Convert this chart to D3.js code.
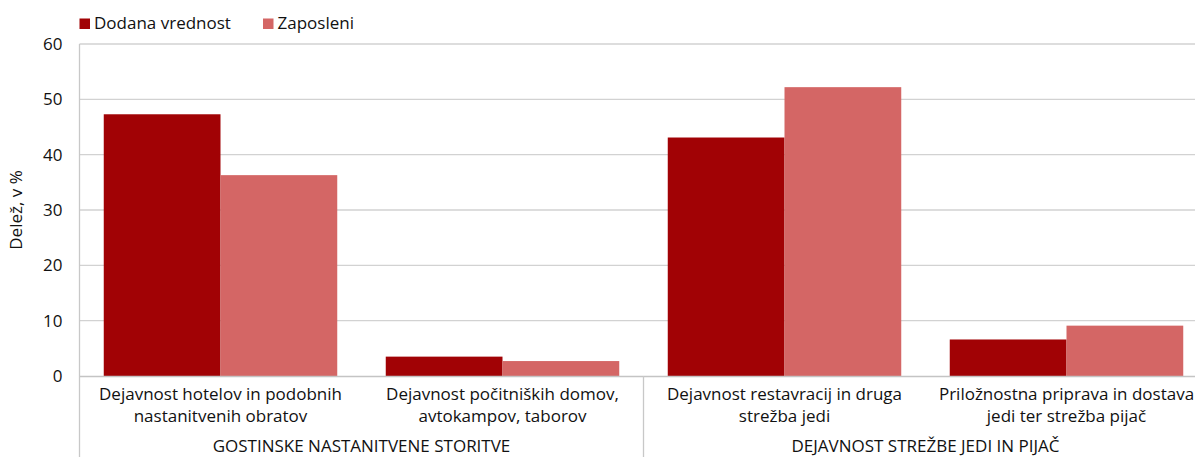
<!DOCTYPE html>
<html>
<head>
<meta charset="utf-8">
<script src="https://cdn.jsdelivr.net/npm/d3@7"></script>
<style>
  body { margin: 0; background: #fff; }
  svg { display: block; font-family: "Open Sans", sans-serif; }
</style>
</head>
<body>
<div id="vis"></div>
<script>
// data
const categories = ["hotel", "pocitniski", "restavracije", "priloznostna"];
const categoryLabels = [
  ["Dejavnost hotelov in podobnih", "nastanitvenih obratov"],
  ["Dejavnost počitniških domov,", "avtokampov, taborov"],
  ["Dejavnost restavracij in druga", "strežba jedi"],
  ["Priložnostna priprava in dostava", "jedi ter strežba pijač"]
];
const groupLabels = ["GOSTINSKE NASTANITVENE STORITVE", "DEJAVNOST STREŽBE JEDI IN PIJAČ"];
const seriesNames = ["Dodana vrednost", "Zaposleni"];
const dodanaVrednost = [47.3, 3.5, 43.1, 6.6];
const zaposleni = [36.3, 2.7, 52.2, 9.1];
const yTicks = [0, 10, 20, 30, 40, 50, 60];

const width = 1195;
const height = 457;
const colours = ["#a10205", "#d46665"];
const fontSize = 17;

const svg = d3.select("#vis").append("svg")
  .attr("width", width)
  .attr("height", height);

// plot area runs a bit past the right edge, like the original
const left = 79.5;
const step = 282;
const y0 = 376, yTop = 44;

const x = d3.scaleBand()
  .domain(categories)
  .range([left, left + step * categories.length])
  .paddingInner(0.172)
  .paddingOuter(0.086);

const xSeries = d3.scaleBand()
  .domain(seriesNames)
  .range([0, x.bandwidth()]);

const y = d3.scaleLinear().domain([0, 60]).range([y0, yTop]);

// gridlines
svg.append("g")
  .selectAll("line")
  .data(yTicks.filter(t => t > 0))
  .join("line")
  .attr("x1", left)
  .attr("x2", width)
  .attr("y1", d => y(d))
  .attr("y2", d => y(d))
  .attr("stroke", "#d2d2d2")
  .attr("stroke-width", 1.3);

// y axis labels
const yAxis = svg.append("g")
  .attr("transform", `translate(${left},0)`)
  .call(d3.axisLeft(y).tickValues(yTicks).tickSize(0).tickPadding(17));
yAxis.select(".domain").remove();
yAxis.selectAll("text")
  .style("font-family", "Open Sans, sans-serif")
  .style("font-size", fontSize + "px")
  .attr("fill", "#111");

// bars
const rows = categories.map((c, i) => ({ cat: c, values: [dodanaVrednost[i], zaposleni[i]] }));
svg.append("g")
  .selectAll("g")
  .data(rows)
  .join("g")
  .attr("transform", d => `translate(${x(d.cat)},0)`)
  .selectAll("rect")
  .data(d => d.values.map((v, j) => ({ name: seriesNames[j], value: v, j })))
  .join("rect")
  .attr("x", d => xSeries(d.name))
  .attr("width", xSeries.bandwidth())
  .attr("y", d => y(d.value))
  .attr("height", d => y0 - y(d.value))
  .attr("fill", d => colours[d.j]);

// x axis line
svg.append("line")
  .attr("x1", left).attr("x2", width)
  .attr("y1", y0 + 0.5).attr("y2", y0 + 0.5)
  .attr("stroke", "#c4c4c4")
  .attr("stroke-width", 1.5);

// left vertical line, down through label area
svg.append("line")
  .attr("x1", left).attr("x2", left)
  .attr("y1", yTop).attr("y2", height)
  .attr("stroke", "#c8c8c8")
  .attr("stroke-width", 1.3);

// group divider between the two groups
const divider = left + step * 2;
svg.append("line")
  .attr("x1", divider).attr("x2", divider)
  .attr("y1", y0).attr("y2", height)
  .attr("stroke", "#c8c8c8")
  .attr("stroke-width", 1.3);

// category labels (two lines)
const catText = svg.append("g")
  .selectAll("text")
  .data(categories)
  .join("text")
  .attr("text-anchor", "middle")
  .attr("font-size", fontSize)
  .attr("fill", "#111")
  .attr("transform", d => `translate(${x(d) + x.bandwidth() / 2},400)`);
catText.selectAll("tspan")
  .data((d, i) => categoryLabels[i])
  .join("tspan")
  .attr("x", 0)
  .attr("y", (d, i) => i * 22)
  .text(d => d);

// group labels
const groupCentres = [(left + divider) / 2, (divider + left + step * 4) / 2];
svg.append("g")
  .selectAll("text")
  .data(groupLabels)
  .join("text")
  .attr("x", (d, i) => groupCentres[i])
  .attr("y", 452)
  .attr("text-anchor", "middle")
  .attr("font-size", fontSize)
  .attr("fill", "#111")
  .text(d => d);

// y axis title
svg.append("text")
  .attr("transform", `translate(22,${(y0 + yTop) / 2}) rotate(-90)`)
  .attr("text-anchor", "middle")
  .attr("font-size", fontSize)
  .attr("fill", "#111")
  .text("Delež, v %");

// legend
const legendX = [79.5, 263];
const legend = svg.append("g")
  .selectAll("g")
  .data(seriesNames)
  .join("g")
  .attr("transform", (d, i) => `translate(${legendX[i]},18.5)`);
legend.append("rect")
  .attr("width", 10.5)
  .attr("height", 10.5)
  .attr("fill", (d, i) => colours[i]);
legend.append("text")
  .attr("x", 14.5)
  .attr("y", 10.8)
  .attr("font-size", fontSize)
  .attr("fill", "#111")
  .text(d => d);
</script>
</body>
</html>
